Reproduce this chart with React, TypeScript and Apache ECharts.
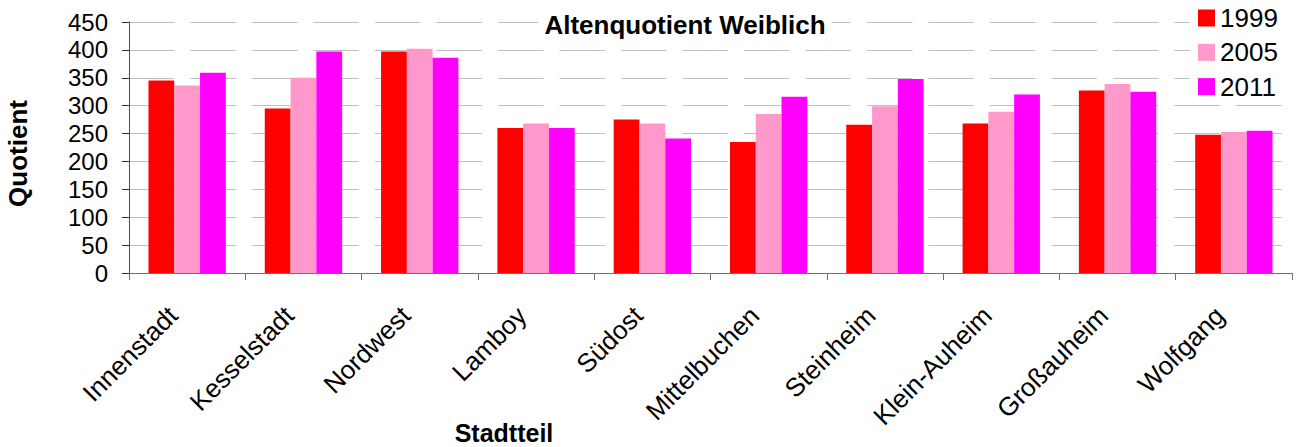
import React, { useEffect, useRef } from "react";
import * as echarts from "echarts";

const categories = ["Innenstadt", "Kesselstadt", "Nordwest", "Lamboy", "Südost", "Mittelbuchen", "Steinheim", "Klein-Auheim", "Großauheim", "Wolfgang"];
const seriesNames = ["1999", "2005", "2011"];
const values1999 = [345, 295, 397, 260, 275, 235, 266, 268, 327, 248];
const values2005 = [336, 350, 402, 268, 268, 285, 299, 289, 339, 253];
const values2011 = [359, 397, 386, 260, 241, 316, 348, 320, 325, 255];
const colors = ["#FF0000", "#FF99CC", "#FF00FF"];

const FONT = "'Liberation Sans', Arial, sans-serif";

export default function App() {
  const ref = useRef<HTMLDivElement>(null);
  useEffect(() => {
    document.body.style.margin = "0";
    if (!ref.current) return;
    const chart = echarts.init(ref.current, undefined, { renderer: "svg" });
    const data = [values1999, values2005, values2011];
    chart.setOption({
      animation: false,
      backgroundColor: "#ffffff",
      textStyle: { fontFamily: FONT },
      title: {
        text: "Altenquotient Weiblich",
        left: 679,
        top: 8,
        textAlign: "center",
        padding: [4, 6, 4, 6],
        backgroundColor: "#ffffff",
        textStyle: { fontFamily: FONT, fontSize: 26, fontWeight: "bold", color: "#000", lineHeight: 26 },
      },
      legend: {
        orient: "vertical",
        left: 1190,
        top: 0,
        padding: [5, 5, 3, 8],
        backgroundColor: "#ffffff",
        itemWidth: 17,
        itemHeight: 17,
        itemGap: 8.3,
        icon: "rect",
        textStyle: { fontFamily: FONT, fontSize: 26, color: "#000", lineHeight: 26 },
        data: seriesNames,
      },
      grid: { left: 129, right: 7, top: 22, bottom: 174, containLabel: false },
      xAxis: {
        type: "category",
        data: categories,
        boundaryGap: true,
        axisLine: { lineStyle: { color: "#707070", width: 1 } },
        axisTick: { show: true, length: 7, lineStyle: { color: "#707070" } },
        axisLabel: { interval: 0, rotate: 45, margin: 24, padding: [0, 20, 0, 0], fontFamily: FONT, fontSize: 26, color: "#000" },
        splitLine: { show: false },
      },
      yAxis: {
        type: "value",
        min: 0,
        max: 450,
        interval: 50,
        axisLine: { show: true, lineStyle: { color: "#505050", width: 1 } },
        axisTick: { show: true, length: 7, lineStyle: { color: "#303030" } },
        axisLabel: { margin: 21, fontFamily: FONT, fontSize: 24, color: "#000" },
        splitLine: { show: true, lineStyle: { color: "#c0c0c0", width: 1, type: [45.5, 16] } },
      },
      graphic: [
        {
          type: "text",
          x: 17.5,
          y: 153.5,
          rotation: Math.PI / 2,
          style: { text: "Quotient", align: "center", verticalAlign: "middle", font: `bold 26px ${FONT}`, fill: "#000" },
        },
        {
          type: "text",
          x: 504,
          y: 433,
          style: { text: "Stadtteil", align: "center", verticalAlign: "middle", font: `bold 25px ${FONT}`, fill: "#000" },
        },
      ],
      series: seriesNames.map((name, i) => ({
        name,
        type: "bar",
        data: data[i],
        barGap: "0%",
        barCategoryGap: "33.5%",
        itemStyle: { color: colors[i] },
      })),
    });
    return () => chart.dispose();
  }, []);
  return <div ref={ref} style={{ position: "fixed", left: 0, top: 0, width: 1299, height: 447 }} />;
}
